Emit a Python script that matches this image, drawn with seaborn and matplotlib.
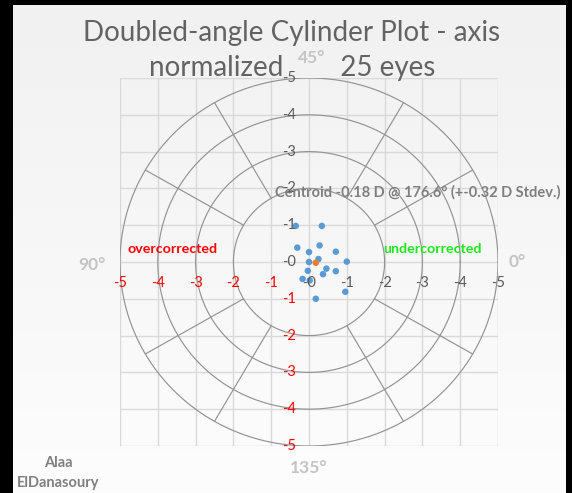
import numpy as np
import pandas as pd
import matplotlib
matplotlib.use("Agg")
import matplotlib.pyplot as plt
import seaborn as sns

# ---- data ----
cyl_x = [-0.35, 0.34, -0.31, 0.28, 0.0, 0.71, 0.0, 0.25, 1.0, -0.03, 0.46, 0.71, 0.37, -0.17, 0.02, 0.96, 0.18]
cyl_y = [0.98, 0.98, 0.39, 0.45, 0.27, 0.28, 0.0, 0.08, 0.01, -0.24, -0.18, -0.25, -0.33, -0.46, -0.5, -0.81, -1.0]
centroid_x = [0.18]
centroid_y = [-0.02]
ring_radii = [2, 3, 4, 5]
spoke_angles = [30, 60, 120, 150, 210, 240, 300, 330]
tick_values = [-5, -4, -3, -2, -1, 0, 1, 2, 3, 4, 5]
tick_labels = ["-5", "-4", "-3", "-2", "-1", "-0", "-1", "-2", "-3", "-4", "-5"]
y_tick_labels = ["-5", "-4", "-3", "-2", "-1", "-0", "-1", "-2", "-3", "-4", "-5"]
title_lines = ["Doubled-angle Cylinder Plot - axis", "normalized        25 eyes"]
centroid_text = "Centroid -0.18 D @ 176.6° (+-0.32 D Stdev.)"

sns.set_theme(style="white")
plt.rcParams['font.family'] = ['Lato', 'DejaVu Sans']

W, H = 572, 493
fig = plt.figure(figsize=(W / 100, H / 100), dpi=100, facecolor="black")

def fx(px):
    return px / W

def fy(py):
    return 1 - py / H

# background panel with subtle gradient
bg = fig.add_axes([fx(13), 0, fx(566) - fx(13), fy(5)])
grad = np.linspace(0, 1, 256).reshape(-1, 1)
bg.imshow(grad, aspect="auto", cmap=matplotlib.colors.LinearSegmentedColormap.from_list(
    "g", ["#f1f1f1", "#fdfdfd"]), extent=[0, 1, 0, 1], origin="upper")
bg.set_axis_off()

ax = fig.add_axes([fx(120), fy(446), fx(498) - fx(120), fy(78) - fy(446)])
ax.set_facecolor("none")
ax.set_xlim(-5, 5)
ax.set_ylim(-5, 5)
for v in tick_values:
    ax.axvline(v, color="#d9d9d9", lw=1.0, zorder=0)
    ax.axhline(v, color="#d9d9d9", lw=1.0, zorder=0)
for s in ax.spines.values():
    s.set_visible(False)
ax.set_xticks([])
ax.set_yticks([])

t = np.linspace(0, 2 * np.pi, 400)
for r in ring_radii:
    ax.plot(r * np.cos(t), r * np.sin(t), color="#939393", lw=0.85, zorder=1)
for a in spoke_angles:
    ar = np.deg2rad(a)
    ax.plot([ring_radii[0] * np.cos(ar), ring_radii[-1] * np.cos(ar)],
            [ring_radii[0] * np.sin(ar), ring_radii[-1] * np.sin(ar)],
            color="#939393", lw=0.85, zorder=1)

df = pd.DataFrame({"x": cyl_x, "y": cyl_y})
sns.scatterplot(data=df, x="x", y="y", ax=ax, color="#5b9bd5", s=22,
                edgecolor="none", zorder=3, legend=False)
dc = pd.DataFrame({"x": centroid_x, "y": centroid_y})
sns.scatterplot(data=dc, x="x", y="y", ax=ax, color="#ed7d31", s=22,
                edgecolor="none", zorder=4, legend=False)
ax.set_xlabel("")
ax.set_ylabel("")

# axis labels (Excel-like, crossing at zero)
for v, lab in zip(tick_values, tick_labels):
    ax.annotate(lab, (v, 0), xytext=(0, -21), textcoords="offset pixels",
                ha="center", va="center", fontsize=10.5,
                color="#ff0000" if v < 0 else "#595959", zorder=5)
for v, lab in zip(tick_values[::-1], y_tick_labels):
    ax.annotate(lab, (0, v), xytext=(-13, 0), textcoords="offset pixels",
                ha="right", va="center", fontsize=10.5,
                color="#ff0000" if v < 0 else "#595959", zorder=5)

# title
fig.text(fx(292), fy(33), title_lines[0], ha="center", va="center",
         fontsize=20, color="#636363")
fig.text(fx(292), fy(68), title_lines[1], ha="center", va="center",
         fontsize=20, color="#636363")

# angle labels
lab_kw = dict(ha="center", va="center", fontsize=12.5, fontweight="bold", color="#c4c4c4")
fig.text(fx(92), fy(265), "90°", **lab_kw)
fig.text(fx(517), fy(262), "0°", **lab_kw)
fig.text(fx(312), fy(58), "45°", **lab_kw)
fig.text(fx(309), fy(468), "135°", **lab_kw)

fig.text(fx(173), fy(249), "overcorrected", ha="center", va="center",
         fontsize=10.3, fontweight="bold", color="#ff0000")
fig.text(fx(433), fy(249), "undercorrected", ha="center", va="center",
         fontsize=10.3, fontweight="bold", color="#1ee61e")
fig.text(fx(275), fy(192), centroid_text, ha="left", va="center",
         fontsize=10.5, fontweight="bold", color="#7f7f7f")
fig.text(fx(58), fy(463), "Alaa", ha="center", va="center",
         fontsize=10.5, fontweight="bold", color="#7f7f7f")
fig.text(fx(58), fy(483), "ElDanasoury", ha="center", va="center",
         fontsize=10.5, fontweight="bold", color="#7f7f7f")

fig.savefig("out.png", dpi=100, facecolor="black")
